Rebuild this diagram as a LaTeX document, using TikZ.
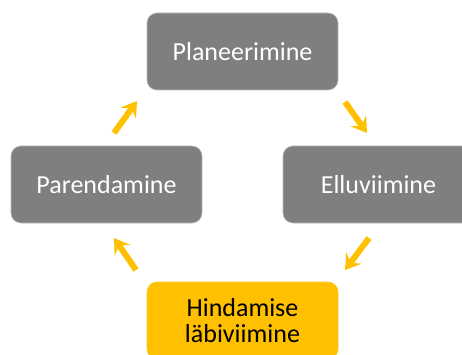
\documentclass[tikz,border=0pt]{standalone}
\usepackage{fontspec}
\setmainfont{Carlito}
\usetikzlibrary{arrows.meta}
\definecolor{boxgray}{HTML}{7F7F7F}
\definecolor{boxyellow}{HTML}{FFC000}
\tikzset{
  stepbox/.style={rounded corners=10pt, fill=boxgray, draw=gray!55, line width=0.6pt,
    minimum width=191pt, minimum height=77pt, text=white, align=center, inner sep=0pt,
    font=\fontsize{26}{26}\selectfont},
  hotbox/.style={stepbox, fill=boxyellow, draw=boxyellow!85!white, text=black},
  cyc/.style={draw=boxyellow, line width=6pt, -{Stealth[length=15pt,width=19pt,inset=6pt]}}
}
\begin{document}
\begin{tikzpicture}[x=1pt,y=-1pt]
\useasboundingbox (0,0) rectangle (462,355);
\begin{scope}
\clip (0,0) rectangle (462,355);
\node[stepbox] (plan) at (242.5,51.5) {Planeerimine};
\node[stepbox] (par) at (106.5,184.5) {Parendamine};
\node[stepbox] (ell) at (378.5,184.5) {Elluviimine};
\node[hotbox] (hin) at (242.5,320.5) {Hindamise\\läbiviimine};
\end{scope}
\coordinate (a1s) at (114,133); \coordinate (a1e) at (137,101);
\coordinate (a2s) at (345,102); \coordinate (a2e) at (367,133);
\coordinate (a3s) at (369,238); \coordinate (a3e) at (345,270);
\coordinate (a4s) at (136,270); \coordinate (a4e) at (114,238);
\draw[cyc] (a1s) -- (a1e);
\draw[cyc] (a2s) -- (a2e);
\draw[cyc] (a3s) -- (a3e);
\draw[cyc] (a4s) -- (a4e);
\end{tikzpicture}
\end{document}
